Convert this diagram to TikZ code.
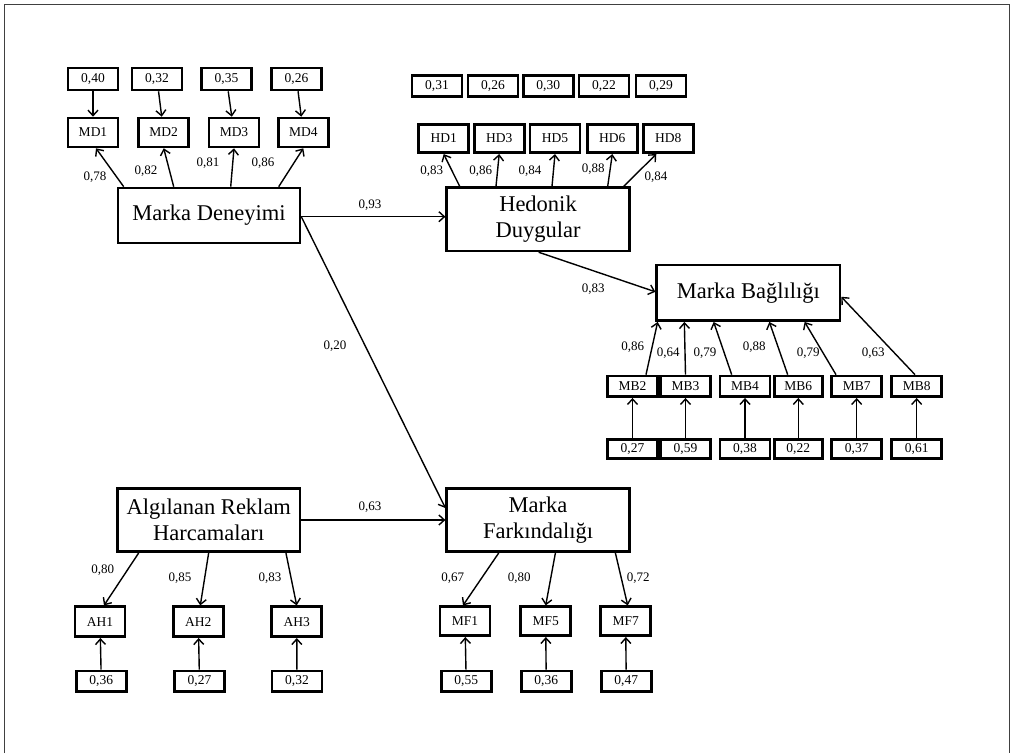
\documentclass[tikz,border=0pt]{standalone}
\usepackage{fontspec}
\setmainfont{Liberation Serif}
\usetikzlibrary{arrows.meta,calc}
\tikzset{
  box/.style={draw, line width=2.6pt, inner sep=0pt, minimum width=50pt, font=\fontsize{13.5}{15}\selectfont},
  lat/.style={draw, line width=2.6pt, inner sep=0pt, align=center, font=\fontsize{22.5}{26.5}\selectfont},
  num/.style={inner sep=0pt, font=\fontsize{13}{15}\selectfont},
  arr/.style={-{Straight Barb[length=5.5pt,width=10pt]}, line width=1.4pt},
  frame/.style={black!75, line width=1pt},
}
\begin{document}
\begin{tikzpicture}[x=1pt,y=-1pt]
\useasboundingbox (0,0) rectangle (1010,753);
\draw[frame] (4,753) -- (4,4) -- (1009,4) -- (1009,753);

% ---------- Marka Deneyimi ----------
\node[box,minimum height=22pt] (eMD1) at (93,79) {0,40};
\node[box,minimum height=22pt] (eMD2) at (157,79) {0,32};
\node[box,minimum height=22pt] (eMD3) at (226.5,79) {0,35};
\node[box,minimum height=22pt] (eMD4) at (296.5,79) {0,26};
\node[box,minimum height=29pt] (MD1) at (93,132.5) {MD1};
\node[box,minimum height=29pt] (MD2) at (163.7,132.5) {MD2};
\node[box,minimum height=29pt] (MD3) at (234,132.5) {MD3};
\node[box,minimum height=29pt] (MD4) at (303.3,132.5) {MD4};
\node[lat,minimum width=182pt,minimum height=55pt] (MDn) at (209,215.5) {Marka Deneyimi};

\draw[arr] (eMD1) -- (MD1);
\draw[arr] (eMD2) -- (MD2);
\draw[arr] (eMD3) -- (MD3);
\draw[arr] (eMD4) -- (MD4);
\draw[arr] ($(MDn.north west)+(7,0)$) -- ($(MD1.south)+(3,0)$);
\draw[arr] ($(MDn.north west)+(57,0)$) -- (MD2.south);
\draw[arr] ($(MDn.north west)+(114,0)$) -- (MD3.south);
\draw[arr] ($(MDn.north west)+(162,0)$) -- (MD4.south);
\node[num] (lMD1) at (95,177) {0,78};
\node[num] (lMD2) at (146,171) {0,82};
\node[num] (lMD3) at (208,163) {0,81};
\node[num] (lMD4) at (263,163) {0,86};

% ---------- Hedonik Duygular ----------
\node[box,minimum height=21.5pt] (eHD1) at (437,86) {0,31};
\node[box,minimum height=21.5pt] (eHD3) at (493,86) {0,26};
\node[box,minimum height=21.5pt] (eHD5) at (548.3,86) {0,30};
\node[box,minimum height=21.5pt] (eHD6) at (604,86) {0,22};
\node[box,minimum height=21.5pt] (eHD8) at (661,86) {0,29};
\node[box,minimum height=28.5pt] (HD1) at (443.7,138.5) {HD1};
\node[box,minimum height=28.5pt] (HD3) at (499.2,138.5) {HD3};
\node[box,minimum height=28.5pt] (HD5) at (555,138.5) {HD5};
\node[box,minimum height=28.5pt] (HD6) at (612.3,138.5) {HD6};
\node[box,minimum height=28.5pt] (HD8) at (668.3,138.5) {HD8};
\node[lat,minimum width=182.6pt,minimum height=63.3pt] (Hed) at (538,219.3) {Hedonik\\Duygular};

\draw[arr] ($(Hed.north west)+(14.3,0)$) -- (HD1.south);
\draw[arr] ($(Hed.north west)+(50.6,0)$) -- (HD3.south);
\draw[arr] ($(Hed.north west)+(106.6,0)$) -- (HD5.south);
\draw[arr] ($(Hed.north west)+(162.3,0)$) -- (HD6.south);
\draw[arr] ($(Hed.north west)+(178.3,0)$) -- ($(HD8.south)+(-12,0)$);
\node[num] (lHD1) at (431.7,171) {0,83};
\node[num] (lHD3) at (480.7,171) {0,86};
\node[num] (lHD5) at (530,171) {0,84};
\node[num] (lHD6) at (593.3,169) {0,88};
\node[num] (lHD8) at (656,176.7) {0,84};

% ---------- Marka Bağlılığı ----------
\node[lat,minimum width=183.3pt,minimum height=55.7pt] (MBag) at (748.3,292.8) {Marka Bağlılığı};
\node[box,minimum height=20.7pt] (MB2) at (632.5,386.3) {MB2};
\node[box,minimum height=20.7pt] (MB3) at (685.5,386.3) {MB3};
\node[box,minimum height=20.7pt] (MB4) at (745,386.3) {MB4};
\node[box,minimum height=20.7pt,minimum width=48pt] (MB6) at (798.3,386.3) {MB6};
\node[box,minimum height=20.7pt] (MB7) at (856.7,386.3) {MB7};
\node[box,minimum height=20.7pt] (MB8) at (916.7,386.3) {MB8};
\node[box,minimum height=19pt] (eMB2) at (632.5,448.8) {0,27};
\node[box,minimum height=19pt] (eMB3) at (685.5,448.8) {0,59};
\node[box,minimum height=19pt] (eMB4) at (745,448.8) {0,38};
\node[box,minimum height=19pt,minimum width=48pt] (eMB6) at (798.3,448.8) {0,22};
\node[box,minimum height=19pt] (eMB7) at (856.7,448.8) {0,37};
\node[box,minimum height=19pt] (eMB8) at (916.7,448.8) {0,61};

\draw[arr] (eMB2) -- (MB2);
\draw[arr] (eMB3) -- (MB3);
\draw[arr] (eMB4) -- (MB4);
\draw[arr] (eMB6) -- (MB6);
\draw[arr] (eMB7) -- (MB7);
\draw[arr] (eMB8) -- (MB8);
\draw[arr] ($(MB2.north)+(13.5,0)$) -- ($(MBag.south west)+(2.3,0)$);
\draw[arr] (MB3.north) -- ($(MBag.south west)+(29,0)$);
\draw[arr] ($(MB4.north)+(-13.3,0)$) -- ($(MBag.south west)+(58.3,0)$);
\draw[arr] ($(MB6.north)+(-10.6,0)$) -- ($(MBag.south west)+(114,0)$);
\draw[arr] ($(MB7.north)+(-20.7,0)$) -- ($(MBag.south west)+(149.3,0)$);
\draw[arr] ($(MB8.north)+(-1.7,0)$) -- ($(MBag.east)+(0,4)$);
\node[num] (lMB2) at (632.7,346.7) {0,86};
\node[num] (lMB3) at (668.3,352.7) {0,64};
\node[num] (lMB4) at (705,352.7) {0,79};
\node[num] (lMB6) at (754.3,346.7) {0,88};
\node[num] (lMB7) at (808.3,352.7) {0,79};
\node[num] (lMB8) at (873.3,352.7) {0,63};

% ---------- Algılanan Reklam Harcamaları ----------
\node[lat,minimum width=182.3pt,minimum height=63.4pt] (Alg) at (208.8,520) {Algılanan Reklam\\Harcamaları};
\node[box,minimum height=30pt] (AH1) at (100,621.7) {AH1};
\node[box,minimum height=30pt] (AH2) at (198.3,621.7) {AH2};
\node[box,minimum height=30pt] (AH3) at (296.7,621.7) {AH3};
\node[box,minimum height=20.7pt] (eAH1) at (101.3,681.3) {0,36};
\node[box,minimum height=20.7pt] (eAH2) at (199.5,681.3) {0,27};
\node[box,minimum height=20.7pt] (eAH3) at (297,681.3) {0,32};

\draw[arr] (eAH1) -- (AH1);
\draw[arr] (eAH2) -- (AH2);
\draw[arr] (eAH3) -- (AH3);
\draw[arr] ($(Alg.south west)+(22.3,0)$) -- ($(AH1.north)+(4,0)$);
\draw[arr] ($(Alg.south west)+(92.3,0)$) -- ($(AH2.north)+(2,0)$);
\draw[arr] ($(Alg.south west)+(169.6,0)$) -- (AH3.north);
\node[num] (lAH1) at (102.7,570) {0,80};
\node[num] (lAH2) at (180,578.3) {0,85};
\node[num] (lAH3) at (270,578.3) {0,83};

% ---------- Marka Farkındalığı ----------
\node[lat,minimum width=182.6pt,minimum height=63.4pt] (MFk) at (538,520) {Marka\\Farkındalığı};
\node[box,minimum height=29pt] (MF1) at (465,621.2) {MF1};
\node[box,minimum height=29pt] (MF5) at (545.7,621.2) {MF5};
\node[box,minimum height=29pt] (MF7) at (625.7,621.2) {MF7};
\node[box,minimum height=20.7pt] (eMF1) at (466.2,681.3) {0,55};
\node[box,minimum height=20.7pt] (eMF5) at (546.2,681.3) {0,36};
\node[box,minimum height=20.7pt] (eMF7) at (626.2,681.3) {0,47};

\draw[arr] (eMF1) -- (MF1);
\draw[arr] (eMF5) -- (MF5);
\draw[arr] (eMF7) -- (MF7);
\draw[arr] ($(MFk.south west)+(53.3,0)$) -- ($(MF1.north)+(-2,0)$);
\draw[arr] ($(MFk.south west)+(110,0)$) -- (MF5.north);
\draw[arr] ($(MFk.south west)+(170,0)$) -- ($(MF7.north)+(2,0)$);
\node[num] (lMF1) at (452.7,578.3) {0,67};
\node[num] (lMF5) at (519.3,578.3) {0,80};
\node[num] (lMF7) at (638.3,578.3) {0,72};

% ---------- structural paths ----------
\coordinate (mdout) at ($(MDn.east)+(0,1.2)$);
\coordinate (hedin) at (mdout -| Hed.west);
\coordinate (mfin) at ($(MFk.west)+(0,-12)$);
\coordinate (hedout) at ($(Hed.south west)+(93.3,0)$);
\coordinate (mbin) at ($(MBag.west)+(0,-1)$);
\draw[arr] (mdout) -- (hedin);
\draw[arr] (mdout) -- (mfin);
\draw[arr] (Alg.east) -- (MFk.west);
\draw[arr] (hedout) -- (mbin);
\node[num] (lMDHed) at (370,205) {0,93};
\node[num] (lMDMF) at (335,346) {0,20};
\node[num] (lAlgMF) at (370,507) {0,63};
\node[num] (lHedMB) at (593.3,289.3) {0,83};
\end{tikzpicture}
\end{document}
